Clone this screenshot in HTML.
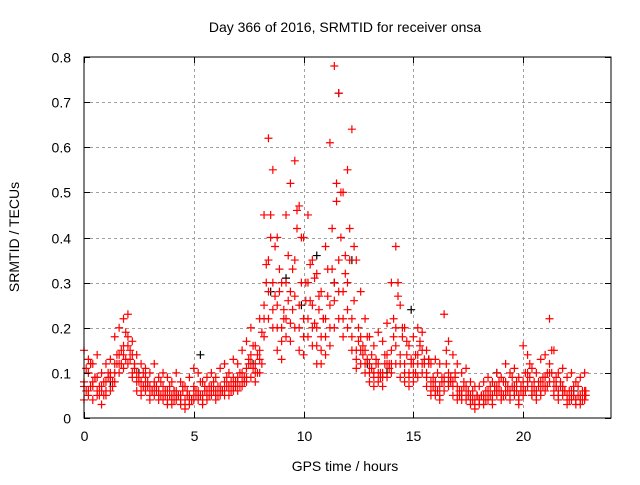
<!DOCTYPE html>
<html><head><meta charset="utf-8"><style>
body{margin:0;background:#fff;}
svg text{font-family:"Liberation Sans",sans-serif;font-size:14px;fill:#000;}
</style></head><body>
<svg id="chart" width="640" height="480" viewBox="0 0 640 480" xmlns="http://www.w3.org/2000/svg">
<rect width="640" height="480" fill="#fff"/>
<g id="grid"></g>
<g id="pts"></g>
<rect x="84" y="57" width="527" height="361" fill="none" stroke="#000" stroke-width="1"/>
<g id="ticks"></g>
<text x="345" y="32" text-anchor="middle">Day 366 of 2016, SRMTID for receiver onsa</text>
<text x="345" y="471" text-anchor="middle">GPS time / hours</text>
<text transform="translate(19,237) rotate(-90)" text-anchor="middle">SRMTID / TECUs</text>
</svg>
<script>
const xTicks=[0,5,10,15,20];
const yTicks=[0,0.1,0.2,0.3,0.4,0.5,0.6,0.7,0.8];
const yTickLabels=["0","0.1","0.2","0.3","0.4","0.5","0.6","0.7","0.8"];
const times=[0,0.2,0.4,0.6,0.8,1,1.2,1.4,1.6,1.8,2,2.2,2.4,2.6,2.8,3,3.2,3.4,3.6,3.8,4,4.2,4.4,4.6,4.8,5,5.2,5.4,5.6,5.8,6,6.2,6.4,6.6,6.8,7,7.2,7.4,7.6,7.8,8,8.2,8.4,8.6,8.8,9,9.2,9.4,9.6,9.8,10,10.2,10.4,10.6,10.8,11,11.2,11.4,11.6,11.8,12,12.2,12.4,12.6,12.8,13,13.2,13.4,13.6,13.8,14,14.2,14.4,14.6,14.8,15,15.2,15.4,15.6,15.8,16,16.2,16.4,16.6,16.8,17,17.2,17.4,17.6,17.8,18,18.2,18.4,18.6,18.8,19,19.2,19.4,19.6,19.8,20,20.2,20.4,20.6,20.8,21,21.2,21.4,21.6,21.8,22,22.2,22.4,22.6,22.8];
const times2=[0.1,0.3,0.5,0.7,0.9,1.1,1.3,1.5,1.7,1.9,2.1,2.3,2.5,2.7,2.9,3.1,3.3,3.5,3.7,3.9,4.1,4.3,4.5,4.7,4.9,5.1,5.3,5.5,5.7,5.9,6.1,6.3,6.5,6.7,6.9,7.1,7.3,7.5,7.7,7.9,8.1,8.3,8.5,8.7,8.9,9.1,9.3,9.5,9.7,9.9,10.1,10.3,10.5,10.7,10.9,11.1,11.3,11.5,11.7,11.9,12.1,12.3,12.5,12.7,12.9,13.1,13.3,13.5,13.7,13.9,14.1,14.3,14.5,14.7,14.9,15.1,15.3,15.5,15.7,15.9,16.1,16.3,16.5,16.7,16.9,17.1,17.3,17.5,17.7,17.9,18.1,18.3,18.5,18.7,18.9,19.1,19.3,19.5,19.7,19.9,20.1,20.3,20.5,20.7,20.9,21.1,21.3,21.5,21.7,21.9,22.1,22.3,22.5,22.7,22.85];
const seriesA=[.08,.10,.07,.09,.06,.08,.10,.12,.14,.16,.18,.14,.10,.08,.09,.07,.08,.06,.07,.06,.05,.06,.05,.04,.05,.07,.06,.05,.06,.07,.06,.07,.08,.07,.09,.08,.10,.11,.14,.12,.15,.25,.35,.30,.25,.20,.30,.28,.35,.25,.22,.30,.25,.20,.18,.22,.25,.30,.35,.28,.30,.22,.15,.18,.15,.12,.10,.12,.10,.14,.15,.20,.14,.12,.10,.12,.14,.15,.10,.08,.08,.07,.09,.10,.08,.07,.06,.07,.05,.04,.04,.05,.06,.05,.07,.06,.08,.06,.07,.05,.08,.10,.07,.06,.08,.09,.12,.08,.06,.07,.05,.06,.04,.05,.06];
const seriesB=[.15,.13,.12,.14,.10,.12,.13,.18,.20,.22,.23,.17,.14,.12,.11,.10,.12,.09,.10,.09,.08,.10,.08,.07,.09,.11,.10,.08,.09,.10,.09,.11,.12,.10,.13,.12,.15,.17,.20,.16,.22,.45,.62,.55,.40,.30,.45,.52,.57,.47,.40,.45,.35,.32,.28,.38,.61,.78,.72,.50,.55,.64,.35,.28,.22,.18,.16,.19,.17,.21,.30,.38,.25,.20,.16,.18,.20,.19,.15,.12,.13,.12,.23,.17,.14,.12,.10,.11,.08,.07,.07,.08,.09,.08,.10,.09,.12,.10,.11,.09,.16,.14,.11,.10,.13,.14,.22,.15,.10,.11,.09,.10,.08,.09,.10];
const seriesC=[.04,.05,.04,.06,.03,.05,.06,.08,.10,.11,.12,.09,.06,.05,.06,.04,.05,.04,.04,.03,.03,.04,.03,.02,.03,.04,.04,.03,.04,.05,.04,.05,.05,.05,.06,.06,.07,.08,.09,.08,.10,.18,.22,.20,.15,.13,.18,.17,.20,.15,.14,.18,.16,.12,.12,.14,.16,.20,.22,.18,.20,.15,.11,.12,.10,.08,.07,.08,.07,.09,.10,.12,.09,.08,.07,.08,.09,.10,.07,.05,.05,.04,.06,.07,.05,.04,.04,.04,.03,.02,.03,.03,.04,.03,.05,.04,.05,.04,.05,.03,.05,.07,.05,.04,.05,.06,.08,.05,.04,.05,.03,.04,.03,.03,.04];
const seriesD=[.11,.07,.09,.05,.08,.09,.07,.12,.15,.19,.13,.11,.08,.10,.07,.06,.07,.08,.05,.07,.06,.05,.07,.06,.04,.06,.05,.07,.05,.08,.07,.06,.09,.08,.07,.10,.09,.13,.16,.10,.19,.30,.40,.27,.33,.24,.36,.24,.42,.30,.26,.34,.21,.24,.22,.27,.33,.48,.40,.36,.35,.26,.17,.14,.18,.11,.13,.10,.12,.11,.22,.27,.18,.14,.12,.10,.16,.13,.12,.09,.10,.09,.15,.08,.09,.06,.07,.05,.06,.05,.05,.06,.05,.07,.06,.08,.07,.09,.06,.07,.10,.12,.08,.07,.09,.07,.15,.09,.07,.06,.06,.05,.07,.04,.06];
const seriesE=[.06,.12,.09,.07,.05,.10,.08,.14,.12,.13,.15,.12,.09,.07,.08,.06,.06,.05,.06,.05,.04,.05,.06,.05,.04,.05,.08,.06,.07,.06,.05,.06,.07,.06,.08,.07,.08,.12,.11,.14,.12,.34,.45,.38,.28,.22,.26,.33,.46,.40,.30,.26,.31,.27,.22,.33,.42,.52,.50,.32,.42,.38,.20,.16,.13,.14,.12,.09,.14,.12,.18,.30,.20,.17,.13,.14,.17,.12,.13,.07,.06,.08,.12,.09,.10,.05,.08,.06,.04,.05,.05,.04,.07,.06,.08,.05,.06,.07,.08,.06,.06,.09,.06,.08,.07,.10,.10,.07,.08,.06,.04,.07,.05,.06,.05];
const seriesF=[.07,.06,.08,.05,.07,.06,.09,.10,.12,.14,.16,.10,.08,.06,.07,.05,.07,.05,.05,.04,.04,.05,.04,.03,.04,.06,.05,.04,.05,.06,.05,.06,.06,.07,.07,.09,.08,.09,.12,.10,.13,.22,.28,.24,.20,.17,.22,.21,.27,.20,.18,.22,.20,.16,.15,.18,.20,.26,.28,.22,.24,.18,.13,.15,.12,.10,.09,.10,.09,.12,.12,.16,.12,.10,.09,.10,.12,.12,.09,.06,.06,.05,.08,.08,.07,.05,.05,.05,.04,.03,.04,.04,.05,.04,.06,.05,.06,.05,.06,.04,.06,.08,.06,.05,.06,.07,.10,.06,.05,.06,.04,.05,.04,.04,.05];
const blackTimes=[0.3,1.2,2.5,4.1,5.3,6.9,7.7,8.5,9.2,9.9,10.6,11.4,11.6,12.2,12.9,13.8,14.9,15.7,16.6,17.9,18.8,19.6,20.4,21.5,22.3];
const blackValues=[.12,.08,.10,.06,.14,.07,.12,.28,.31,.25,.36,.30,.72,.35,.12,.10,.24,.13,.08,.05,.10,.06,.05,.07,.06];

const NS="http://www.w3.org/2000/svg";
const X0=84,X1=611,Y0=418,Y1=57;
const xs=t=>X0+(t/24)*(X1-X0);
const ys=v=>Y0-(v/0.8)*(Y0-Y1);
const grid=document.getElementById('grid'),ticks=document.getElementById('ticks'),pts=document.getElementById('pts');
function line(p,x1,y1,x2,y2,stroke,dash,name){const l=document.createElementNS(NS,'line');
l.setAttribute('x1',x1);l.setAttribute('y1',y1);l.setAttribute('x2',x2);l.setAttribute('y2',y2);
l.setAttribute('stroke',stroke);l.setAttribute('stroke-width',1);if(dash)l.setAttribute('stroke-dasharray',dash);


p.appendChild(l);return l;}
function txt(s,x,y,anchor,name){const t=document.createElementNS(NS,'text');t.textContent=s;
t.setAttribute('x',x);t.setAttribute('y',y);t.setAttribute('text-anchor',anchor);


ticks.appendChild(t);}
xTicks.forEach(v=>{const x=Math.round(xs(v))+0.5;
 if(v>0)line(grid,x,Y1,x,Y0,'#a0a0a0','3,3','x-grid-line');
 line(ticks,x,Y0,x,Y0-6,'#000',null,'x-tick');line(ticks,x,Y1,x,Y1+6,'#000',null,'x-tick');
 txt(String(v),x,441,'middle','x-tick-label');});
yTicks.forEach((v,i)=>{const y=Math.round(ys(v))+0.5;
 if(v>0&&v<0.8)line(grid,X0,y,X1,y,'#a0a0a0','3,3','y-grid-line');
 line(ticks,X0,y,X0+6,y,'#000',null,'y-tick');line(ticks,X1,y,X1-6,y,'#000',null,'y-tick');
 txt(yTickLabels[i],71,y+5,'end','y-tick-label');});
function plus(t,v,col,name){if(t===undefined||v===undefined)return;const x=xs(t),y=ys(v);const p=document.createElementNS(NS,'path');
p.setAttribute('d',`M${x-4} ${y}H${x+4}M${x} ${y-4}V${y+4}`);p.setAttribute('stroke',col);p.setAttribute('stroke-width',1.2);p.setAttribute('fill','none');


pts.appendChild(p);}
blackTimes.forEach((t,i)=>plus(t,blackValues[i],'#000','black-point'));
[seriesA,seriesB,seriesC,seriesF].forEach(s=>s.forEach((v,i)=>plus(times[i],v,'#ff0000','red-point')));
[seriesD,seriesE].forEach(s=>s.forEach((v,i)=>plus(times2[i],v,'#ff0000','red-point')));
</script>
</body></html>
